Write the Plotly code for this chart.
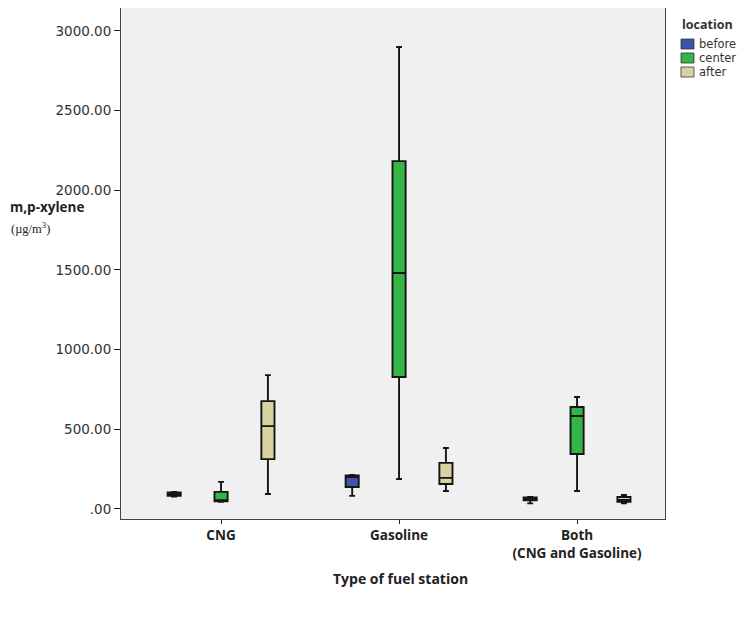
import plotly.graph_objects as go

# ---- data ----
categories = ["CNG", "Gasoline", "Both"]
category_labels = ["<b>CNG</b>", "<b>Gasoline</b>", "<b>Both<br>(CNG and Gasoline)</b>"]
locations = ["before", "center", "after"]

before_lower = [78, 82, 35]
before_q1 = [82, 138, 55]
before_median = [92, 200, 62]
before_q3 = [104, 210, 72]
before_upper = [106, 213, 75]

center_lower = [45, 188, 113]
center_q1 = [48, 828, 345]
center_median = [55, 1481, 583]
center_q3 = [107, 2183, 640]
center_upper = [170, 2899, 703]

after_lower = [94, 113, 35]
after_q1 = [313, 157, 45]
after_median = [520, 195, 56]
after_q3 = [677, 289, 75]
after_upper = [840, 383, 88]

y_tickvals = [0, 500, 1000, 1500, 2000, 2500, 3000]
y_ticktext = [".00", "500.00", "1000.00", "1500.00", "2000.00", "2500.00", "3000.00"]

colors = {"before": "#3c55a8", "center": "#35b547", "after": "#d9d3a1"}

series = {
    "before": (before_lower, before_q1, before_median, before_q3, before_upper),
    "center": (center_lower, center_q1, center_median, center_q3, center_upper),
    "after": (after_lower, after_q1, after_median, after_q3, after_upper),
}

# ---- layout geometry (figure pixels; the page adds an 8px body margin) ----
W, H = 738, 611
L, R, T, B = 113, 81, 0, 100
PW, PH = W - L - R, H - T - B


def px(x):
    return (x - L) / PW


def py(y):
    return 1 - (y - T) / PH


fig = go.Figure()
for loc in locations:
    lo, q1, med, q3, up = series[loc]
    fig.add_trace(go.Box(
        name=loc,
        x=categories,
        lowerfence=lo, q1=q1, median=med, q3=q3, upperfence=up,
        fillcolor=colors[loc],
        line=dict(color="#151515", width=1.9),
        whiskerwidth=0.45,
        boxpoints=False,
        showlegend=False,
        hoverinfo="skip",
    ))

annotations = []
shapes = []

# compact legend (SPSS style)
annotations.append(dict(text="<b>location</b>", x=px(672), y=py(17), xref="paper", yref="paper",
                        xanchor="left", yanchor="middle", showarrow=False,
                        font=dict(family="Open Sans", size=12.5, color="#333")))
for i, loc in enumerate(locations):
    cy = 36 + i * 14
    shapes.append(dict(type="rect", xref="paper", yref="paper",
                       x0=px(673), x1=px(686), y0=py(cy - 5), y1=py(cy + 5),
                       fillcolor=colors[loc], line=dict(color="#333", width=0.8)))
    annotations.append(dict(text=loc, x=px(689), y=py(cy), xref="paper", yref="paper",
                            xanchor="left", yanchor="middle", showarrow=False,
                            font=dict(family="DejaVu Sans", size=11.5, color="#333")))

# y-axis title (horizontal, SPSS style)
annotations.append(dict(text="<b>m,p-xylene</b>", x=px(0), y=py(199), xref="paper", yref="paper",
                        xanchor="left", yanchor="middle", showarrow=False,
                        font=dict(family="Open Sans", size=13.5, color="#222")))
annotations.append(dict(text="(µg/m<sup>3</sup>)", x=px(1), y=py(220), xref="paper", yref="paper",
                        xanchor="left", yanchor="middle", showarrow=False,
                        font=dict(family="Liberation Serif", size=12.5, color="#222")))
# x-axis title
annotations.append(dict(text="<b>Type of fuel station</b>", x=px(392), y=py(570), xref="paper", yref="paper",
                        xanchor="center", yanchor="middle", showarrow=False,
                        font=dict(family="Open Sans", size=14, color="#222")))

fig.update_layout(
    width=W, height=H,
    margin=dict(l=L, r=R, t=T, b=B, pad=0),
    paper_bgcolor="white",
    plot_bgcolor="#f0f0f0",
    boxmode="group",
    boxgap=0.21,
    boxgroupgap=0.72,
    showlegend=False,
    annotations=annotations,
    shapes=shapes,
)

fig.update_xaxes(
    type="category",
    categoryorder="array", categoryarray=categories,
    tickvals=categories, ticktext=category_labels,
    range=[-0.562, 2.494],
    showgrid=False, zeroline=False,
    showline=True, linecolor="#444", linewidth=1, mirror=True,
    ticks="outside", ticklen=4, tickcolor="#222",
    tickfont=dict(family="Open Sans", size=13.5, color="#222"),
)
fig.update_yaxes(
    range=[-63, 3144],
    tickvals=y_tickvals, ticktext=y_ticktext,
    showgrid=False, zeroline=False,
    showline=True, linecolor="#444", linewidth=1, mirror=True,
    ticks="outside", ticklen=6, tickcolor="#222",
    tickfont=dict(family="DejaVu Sans", size=13.5, color="#333"),
)

fig.write_html("out.html")
